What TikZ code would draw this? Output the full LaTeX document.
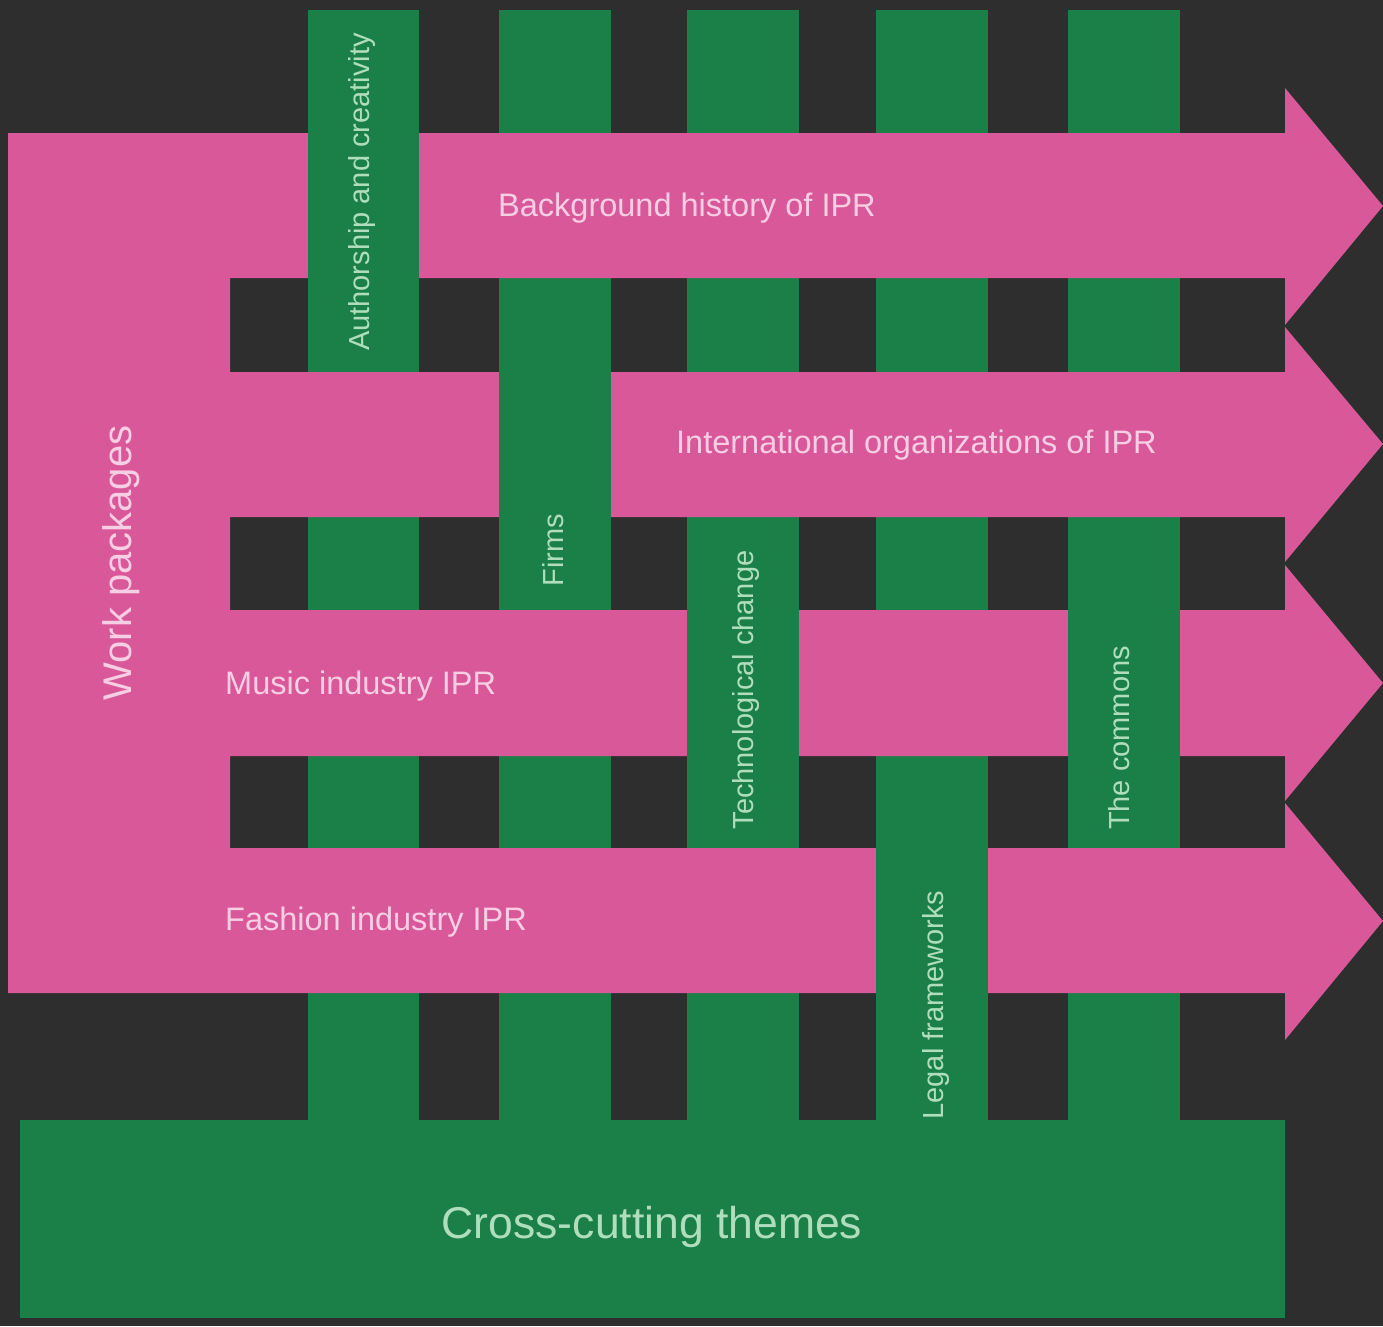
\documentclass[tikz,border=0pt]{standalone}
\usepackage{fontspec}
\setmainfont{Liberation Sans}
\definecolor{bg}{RGB}{46,46,46}
\definecolor{grn}{RGB}{26,128,72}
\definecolor{pnk}{RGB}{217,88,154}
\definecolor{pinktext}{RGB}{247,206,228}
\definecolor{greentext}{RGB}{176,222,188}
\begin{document}
\begin{tikzpicture}[x=1pt,y=-1pt,
  greenbar/.style={fill=grn},
  pinkshape/.style={fill=pnk},
  pinklabel/.style={text=pinktext,font=\fontsize{32.5}{38}\selectfont,inner sep=0pt},
  vlabel/.style={text=greentext,font=\fontsize{29}{35}\selectfont,inner sep=0pt,rotate=90}]
% background / bounding box
\fill[bg] (0,0) rectangle (1383,1326);
\useasboundingbox (0,0) rectangle (1383,1326);
% green vertical bars (full length) and cross-cutting box
\foreach \xa/\xb in {308/419,499/611,687/799,876/988,1068/1180}
  \fill[greenbar] (\xa,10) rectangle (\xb,1120);
\fill[greenbar] (20,1120) rectangle (1285,1318);
% pink work-package shape with arrows
\fill[pinkshape] (8,133) -- (1285,133) -- (1285,88) -- (1383,206) -- (1285,325) -- (1285,278)
  -- (230,278) -- (230,372) -- (1285,372) -- (1285,327) -- (1383,444) -- (1285,562) -- (1285,517)
  -- (230,517) -- (230,610) -- (1285,610) -- (1285,565) -- (1383,683) -- (1285,801) -- (1285,756)
  -- (230,756) -- (230,848) -- (1285,848) -- (1285,803) -- (1383,921) -- (1285,1040) -- (1285,993)
  -- (8,993) -- cycle;
% green bars passing over the pink arrows
\fill[greenbar] (308,131.5) rectangle (419,279.5);
\fill[greenbar] (499,370.5) rectangle (611,518.5);
\fill[greenbar] (687,608.5) rectangle (799,757.5);
\fill[greenbar] (1068,608.5) rectangle (1180,757.5);
\fill[greenbar] (876,846.5) rectangle (988,994.5);
% labels
\node[pinklabel,font=\fontsize{40}{48}\selectfont,rotate=90] (wp) at (121,563) {Work packages};
\node[pinklabel,anchor=west] (bg1) at (498,208) {Background history of IPR};
\node[pinklabel,anchor=west] (io) at (676,445) {International organizations of IPR};
\node[pinklabel,anchor=west] (mu) at (225,686) {Music industry IPR};
\node[pinklabel,anchor=west] (fa) at (225,922) {Fashion industry IPR};
\node[vlabel] (au) at (362,192) {Authorship and creativity};
\node[vlabel] (fi) at (553,550) {Firms};
\node[vlabel] (te) at (746,690) {Technological change};
\node[vlabel] (le) at (936,1005) {Legal frameworks};
\node[vlabel] (co) at (1119,738) {The commons};
\node[text=greentext,font=\fontsize{44.5}{52}\selectfont,inner sep=0pt] (cc) at (652,1227) {Cross-cutting themes};
\end{tikzpicture}
\end{document}
